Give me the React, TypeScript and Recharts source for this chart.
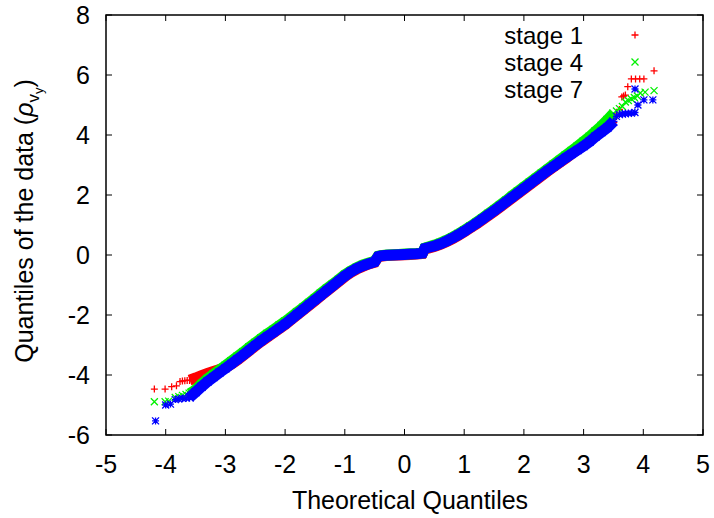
import React from "react";
import { ScatterChart, Scatter, XAxis, YAxis, ReferenceArea } from "recharts";

// theoretical quantiles used for the dense middle part of every stage
const quantX = [
  -3.6, -3.5, -3.4, -3.3, -3.2, -3.1, -3.0, -2.9, -2.8, -2.7, -2.6, -2.5, -2.4, -2.3, -2.2, -2.1,
  -2.0, -1.9, -1.8, -1.7, -1.6, -1.5, -1.4, -1.3, -1.2, -1.1, -1.0, -0.9, -0.8, -0.7, -0.6, -0.5,
  -0.44, -0.4, -0.3, -0.2, -0.1, 0, 0.1, 0.2, 0.3, 0.34, 0.4, 0.5, 0.6, 0.7, 0.8, 0.9,
  1.0, 1.1, 1.2, 1.3, 1.4, 1.5, 1.6, 1.7, 1.8, 1.9, 2.0, 2.1, 2.2, 2.3, 2.4, 2.5,
  2.6, 2.7, 2.8, 2.9, 3.0, 3.1, 3.2, 3.3, 3.4, 3.5,
];

const stage1Body = [
  -4.17, -4.1, -4.02, -3.95, -3.88, -3.82, -3.76, -3.64, -3.5, -3.35, -3.19, -3.03, -2.88, -2.74, -2.6, -2.46,
  -2.32, -2.16, -2.0, -1.84, -1.68, -1.52, -1.36, -1.2, -1.04, -0.88, -0.72, -0.58, -0.47, -0.38, -0.3, -0.24,
  -0.06, -0.04, -0.02, -0.01, 0, 0.01, 0.02, 0.03, 0.05, 0.2, 0.23, 0.28, 0.35, 0.44, 0.54, 0.65,
  0.77, 0.9, 1.03, 1.17, 1.31, 1.45, 1.6, 1.75, 1.9, 2.05, 2.2, 2.35, 2.5, 2.65, 2.8, 2.94,
  3.08, 3.22, 3.38, 3.52, 3.66, 3.82, 3.99, 4.16, 4.33, 4.55,
];

const stage4Body = [
  -4.62, -4.5, -4.3, -4.13, -3.98, -3.83, -3.69, -3.54, -3.39, -3.24, -3.08, -2.93, -2.78, -2.63, -2.5, -2.36,
  -2.22, -2.07, -1.91, -1.76, -1.6, -1.44, -1.28, -1.12, -0.97, -0.82, -0.66, -0.53, -0.42, -0.33, -0.27, -0.21,
  -0.04, -0.02, 0, 0.01, 0.02, 0.03, 0.04, 0.05, 0.07, 0.23, 0.27, 0.33, 0.4, 0.49, 0.59, 0.7,
  0.82, 0.95, 1.08, 1.22, 1.37, 1.51, 1.66, 1.81, 1.97, 2.12, 2.27, 2.42, 2.57, 2.72, 2.87, 3.02,
  3.17, 3.32, 3.47, 3.62, 3.78, 3.94, 4.12, 4.3, 4.5, 4.72,
];

const stage7Body = [
  -4.75, -4.57, -4.39, -4.22, -4.07, -3.92, -3.78, -3.63, -3.48, -3.33, -3.17, -3.01, -2.86, -2.72, -2.58, -2.44,
  -2.3, -2.14, -1.98, -1.82, -1.66, -1.5, -1.34, -1.18, -1.02, -0.86, -0.7, -0.56, -0.45, -0.36, -0.29, -0.23,
  -0.05, -0.03, -0.01, 0, 0.01, 0.02, 0.03, 0.04, 0.06, 0.22, 0.25, 0.3, 0.37, 0.46, 0.56, 0.67,
  0.79, 0.92, 1.05, 1.19, 1.33, 1.47, 1.62, 1.77, 1.92, 2.07, 2.22, 2.37, 2.52, 2.67, 2.82, 2.96,
  3.1, 3.24, 3.37, 3.5, 3.63, 3.78, 3.95, 4.1, 4.25, 4.45,
];

// sparse tails [theoretical, sample]
const stage1Low = [[-4.19, -4.47], [-4.01, -4.47], [-3.9, -4.39], [-3.82, -4.36], [-3.76, -4.22], [-3.72, -4.2], [-3.68, -4.19], [-3.64, -4.18]];
const stage4Low = [[-4.19, -4.89], [-4.01, -4.89], [-3.95, -4.87], [-3.84, -4.75], [-3.78, -4.72], [-3.72, -4.68], [-3.66, -4.65]];
const stage7Low = [[-4.17, -5.53], [-4.0, -5.0], [-3.92, -4.97], [-3.84, -4.82], [-3.78, -4.8], [-3.72, -4.78], [-3.66, -4.77]];

const stage1High = [[3.55, 4.7], [3.6, 4.85], [3.64, 5.27], [3.67, 5.3], [3.7, 5.33], [3.74, 5.61], [3.8, 5.87], [3.87, 5.87], [3.94, 5.87], [4.01, 5.87], [4.18, 6.14]];
const stage4High = [[3.55, 4.8], [3.6, 4.88], [3.65, 4.95], [3.7, 5.1], [3.75, 5.15], [3.8, 5.2], [3.85, 5.25], [3.9, 5.3], [3.95, 5.4], [4.03, 5.43], [4.18, 5.48]];
const stage7High = [[3.55, 4.62], [3.6, 4.68], [3.65, 4.7], [3.7, 4.71], [3.75, 4.72], [3.8, 4.73], [3.86, 4.75], [3.91, 5.0], [4.01, 5.17], [4.16, 5.17]];

const xTicks = [-5, -4, -3, -2, -1, 0, 1, 2, 3, 4, 5];
const yTicks = [-6, -4, -2, 0, 2, 4, 6, 8];

const RED = "#ff0000";
const GREEN = "#00f000";
const BLUE = "#0000ff";
const FONT = "'Liberation Sans', Arial, sans-serif";
const FS = 25;
const TICK = 6;
const BAND = 11;
// plot box: 106..703 x 15..435
const PLOT_W = 597;
const PLOT_H = 420;

const toPoints = (ys: number[]) => ys.map((y, i) => ({ x: quantX[i], y }));
const pairs = (arr: number[][]) => arr.map(([x, y]) => ({ x, y }));

// gnuplot point types: + (pt 1), x (pt 2), * (pt 3)
const marker = (kind: string, color: string, r = 3.5) => (p: any) => {
  const { cx, cy } = p;
  let d = "";
  if (kind === "plus" || kind === "star") d += `M${cx - r},${cy}h${2 * r}M${cx},${cy - r}v${2 * r}`;
  if (kind === "cross" || kind === "star") d += `M${cx - r},${cy - r}l${2 * r},${2 * r}M${cx - r},${cy + r}l${2 * r},${-2 * r}`;
  return <path d={d} stroke={color} strokeWidth={1.3} fill="none" />;
};

// tickSize/tickMargin 0 put the tick anchor on the axis line; ticks point inward, mirrored on the far side
const BottomTick = (p: any) => (
  <g>
    <line x1={p.x} y1={p.y} x2={p.x} y2={p.y - TICK} stroke="#000" />
    <line x1={p.x} y1={p.y - PLOT_H} x2={p.x} y2={p.y - PLOT_H + TICK} stroke="#000" />
    <text x={p.x} y={p.y + 38} textAnchor="middle" fontFamily={FONT} fontSize={FS} fill="#000">
      {p.payload.value}
    </text>
  </g>
);
const LeftTick = (p: any) => (
  <g>
    <line x1={p.x} y1={p.y} x2={p.x + TICK} y2={p.y} stroke="#000" />
    <line x1={p.x + PLOT_W} y1={p.y} x2={p.x + PLOT_W - TICK} y2={p.y} stroke="#000" />
    <text x={p.x - 16} y={p.y + 9} textAnchor="end" fontFamily={FONT} fontSize={FS} fill="#000">
      {p.payload.value}
    </text>
  </g>
);

const legendRows = [
  { name: "stage 1", kind: "plus", color: RED },
  { name: "stage 4", kind: "cross", color: GREEN },
  { name: "stage 7", kind: "star", color: BLUE },
];

export default function App() {
  return (
    <div style={{ position: "absolute", left: 0, top: 0, width: 714, height: 518, background: "#fff" }}>
      <ScatterChart width={714} height={518} margin={{ top: 15, right: 11, bottom: 53, left: 76 }}>
        <XAxis xAxisId="b" type="number" dataKey="x" domain={[-5, 5]} ticks={xTicks} interval={0}
          height={30} tickSize={0} tickMargin={0} tickLine={false} axisLine={false}
          tick={BottomTick} allowDataOverflow />
        <YAxis yAxisId="l" type="number" dataKey="y" domain={[-6, 8]} ticks={yTicks} interval={0}
          width={30} tickSize={0} tickMargin={0} tickLine={false} axisLine={false}
          tick={LeftTick} allowDataOverflow />
        <ReferenceArea xAxisId="b" yAxisId="l" x1={-5} x2={5} y1={-6} y2={8} fill="none" fillOpacity={0}
          stroke="#000" strokeWidth={1.5} />

        <Scatter xAxisId="b" yAxisId="l" data={toPoints(stage1Body)} fill={RED} line={{ stroke: RED, strokeWidth: BAND }}
          lineJointType="linear" shape={marker("plus", RED, 4)} isAnimationActive={false} />
        <Scatter xAxisId="b" yAxisId="l" data={pairs(stage1Low)} fill={RED} shape={marker("plus", RED)} isAnimationActive={false} />
        <Scatter xAxisId="b" yAxisId="l" data={pairs(stage1High)} fill={RED} shape={marker("plus", RED)} isAnimationActive={false} />

        <Scatter xAxisId="b" yAxisId="l" data={toPoints(stage4Body)} fill={GREEN} line={{ stroke: GREEN, strokeWidth: BAND }}
          lineJointType="linear" shape={marker("cross", GREEN, 4)} isAnimationActive={false} />
        <Scatter xAxisId="b" yAxisId="l" data={pairs(stage4Low)} fill={GREEN} shape={marker("cross", GREEN)} isAnimationActive={false} />
        <Scatter xAxisId="b" yAxisId="l" data={pairs(stage4High)} fill={GREEN} shape={marker("cross", GREEN)} isAnimationActive={false} />

        <Scatter xAxisId="b" yAxisId="l" data={toPoints(stage7Body)} fill={BLUE} line={{ stroke: BLUE, strokeWidth: BAND }}
          lineJointType="linear" shape={marker("star", BLUE, 4)} isAnimationActive={false} />
        <Scatter xAxisId="b" yAxisId="l" data={pairs(stage7Low)} fill={BLUE} shape={marker("star", BLUE)} isAnimationActive={false} />
        <Scatter xAxisId="b" yAxisId="l" data={pairs(stage7High)} fill={BLUE} shape={marker("star", BLUE)} isAnimationActive={false} />
      </ScatterChart>

      {/* titles and gnuplot-style key */}
      <svg width={714} height={518} style={{ position: "absolute", left: 0, top: 0, pointerEvents: "none" }}>
        <text x={410} y={509} textAnchor="middle" fontFamily={FONT} fontSize={FS} fill="#000">
          Theoretical Quantiles
        </text>
        <text x={33} y={221} transform="rotate(-90 33 221)" textAnchor="middle" fontFamily={FONT} fontSize={FS} fill="#000">
          Quantiles of the data (<tspan fontStyle="italic">ρ</tspan>
          <tspan fontSize={17} dy={6}>v</tspan>
          <tspan fontSize={13} dy={4}>y</tspan>
          <tspan dy={-10}>)</tspan>
        </text>
        {legendRows.map((row, i) => {
          const cy = 35 + i * 27;
          return (
            <g key={row.name}>
              <text x={583} y={cy + 8.5} textAnchor="end" fontFamily={FONT} fontSize={24} fill="#000">
                {row.name}
              </text>
              {marker(row.kind, row.color)({ cx: 635, cy })}
            </g>
          );
        })}
      </svg>
    </div>
  );
}
